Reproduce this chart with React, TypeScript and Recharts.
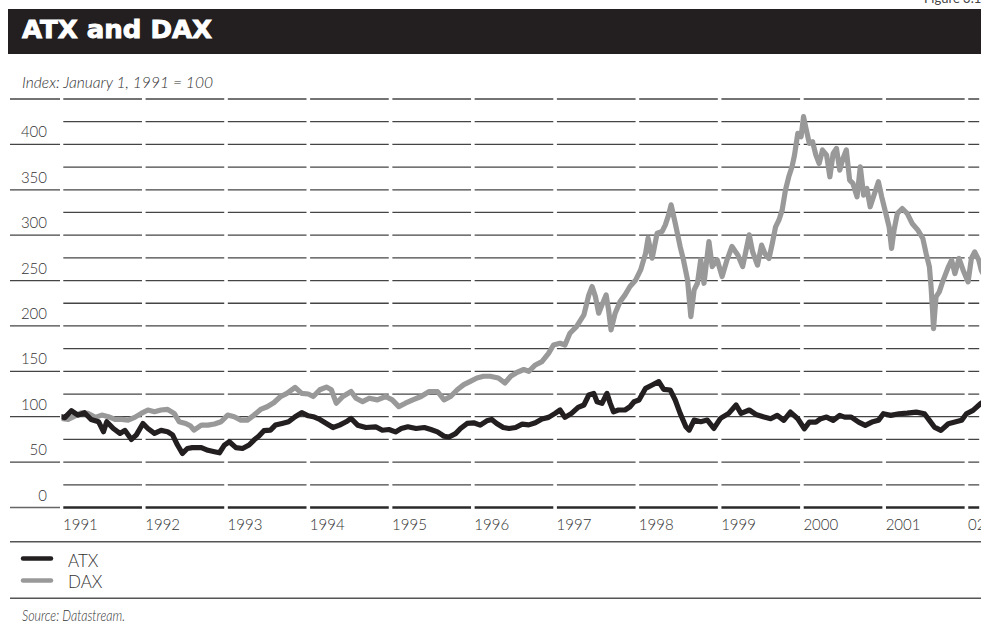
import { CartesianGrid, Line, LineChart, XAxis, YAxis } from "recharts";

// ATX, Index Jan 1 1991 = 100
const atxYears = [
  1991.0, 1991.04, 1991.12, 1991.2, 1991.28, 1991.36, 1991.45, 1991.51, 1991.55, 1991.63,
  1991.71, 1991.77, 1991.85, 1991.91, 1991.99, 1992.05, 1992.13, 1992.21, 1992.29, 1992.35,
  1992.41, 1992.47, 1992.53, 1992.59, 1992.7, 1992.78, 1992.86, 1992.92, 1992.98, 1993.04,
  1993.12, 1993.2, 1993.28, 1993.34, 1993.4, 1993.46, 1993.54, 1993.6, 1993.68, 1993.76,
  1993.84, 1993.92, 1994.0, 1994.06, 1994.14, 1994.22, 1994.3, 1994.38, 1994.46, 1994.52,
  1994.6, 1994.7, 1994.82, 1994.9, 1994.98, 1995.06, 1995.13, 1995.21, 1995.31, 1995.41,
  1995.49, 1995.57, 1995.65, 1995.71, 1995.79, 1995.85, 1995.93, 1996.01, 1996.09, 1996.17,
  1996.23, 1996.29, 1996.37, 1996.44, 1996.52, 1996.6, 1996.68, 1996.76, 1996.84, 1996.92,
  1997.0, 1997.06, 1997.12, 1997.2, 1997.28, 1997.35, 1997.41, 1997.47, 1997.51, 1997.57,
  1997.63, 1997.67, 1997.71, 1997.77, 1997.85, 1997.91, 1997.96, 1998.02, 1998.1, 1998.18,
  1998.26, 1998.32, 1998.4, 1998.46, 1998.52, 1998.59, 1998.63, 1998.69, 1998.77, 1998.85,
  1998.93, 1999.01, 1999.11, 1999.2, 1999.26, 1999.36, 1999.44, 1999.54, 1999.62, 1999.7,
  1999.78, 1999.86, 1999.95, 2000.03, 2000.09, 2000.17, 2000.23, 2000.3, 2000.38, 2000.46,
  2000.52, 2000.6, 2000.69, 2000.77, 2000.85, 2000.93, 2000.99, 2001.08, 2001.18, 2001.28,
  2001.39, 2001.49, 2001.55, 2001.61, 2001.69, 2001.78, 2001.86, 2001.94, 2002.0, 2002.08,
  2002.17, 2002.2,
];
const atxValues = [
  100, 99, 106.6, 101.8, 104.4, 97, 94.5, 83.5, 94.5, 87,
  81.6, 85, 75, 80, 92.6, 87, 81.6, 85, 83.5, 80,
  68.8, 59.6, 65, 66, 66, 63, 61.4, 60.3, 68.8, 72.4,
  66, 65, 68.8, 74.3, 78.7, 84.6, 85.3, 90.8, 92.6, 94.5,
  100, 104.4, 101, 100, 97, 92.6, 88.1, 90.7, 94.4, 98.1,
  90.7, 88.1, 88.9, 85.1, 85.9, 83.3, 87, 88.9, 87, 88.1,
  85.9, 83.3, 78.5, 77.7, 81.4, 87, 92.6, 93.3, 90.7, 95.5,
  97, 92.6, 88.1, 87, 88.1, 91.8, 91, 93.4, 97.5, 99.3,
  103.7, 107.4, 99.3, 103.7, 110.3, 112.9, 123.9, 125.7, 116.5, 114.7,
  125.7, 114.7, 105.5, 107.4, 107.4, 111, 116.5, 118.4, 131.3, 134.9,
  138.6, 130.1, 129.4, 118.4, 103.7, 89, 85.3, 96.3, 94.5, 96.3,
  87.1, 98.2, 103.7, 112.9, 103.7, 107.4, 102.5, 99.6, 97.8, 101.5,
  96, 105.1, 97.8, 86.8, 94.1, 94.1, 97.8, 99.6, 96, 101.5,
  99.6, 99.6, 94.1, 90.4, 94.1, 96, 103.3, 101.5, 103.3, 104,
  105.1, 103.3, 96, 88.6, 84.9, 92.3, 94.1, 96, 103.3, 107,
  114.3, 116,
];

// DAX, same base
const daxYears = [
  1991.0, 1991.08, 1991.16, 1991.24, 1991.32, 1991.41, 1991.49, 1991.57, 1991.65, 1991.73,
  1991.81, 1991.89, 1991.97, 1992.05, 1992.13, 1992.21, 1992.29, 1992.37, 1992.43, 1992.51,
  1992.57, 1992.61, 1992.7, 1992.78, 1992.86, 1992.94, 1993.02, 1993.1, 1993.18, 1993.26,
  1993.34, 1993.42, 1993.5, 1993.58, 1993.66, 1993.74, 1993.84, 1993.92, 1994.0, 1994.06,
  1994.14, 1994.22, 1994.28, 1994.34, 1994.42, 1994.52, 1994.58, 1994.66, 1994.74, 1994.84,
  1994.94, 1995.02, 1995.1, 1995.18, 1995.27, 1995.37, 1995.47, 1995.57, 1995.65, 1995.73,
  1995.81, 1995.89, 1995.97, 1996.05, 1996.13, 1996.21, 1996.31, 1996.39, 1996.46, 1996.54,
  1996.62, 1996.68, 1996.76, 1996.84, 1996.92, 1996.98, 1997.06, 1997.12, 1997.18, 1997.26,
  1997.35, 1997.41, 1997.45, 1997.49, 1997.53, 1997.57, 1997.62, 1997.65, 1997.68, 1997.73,
  1997.79, 1997.85, 1997.91, 1997.98, 1998.04, 1998.1, 1998.13, 1998.18, 1998.24, 1998.3,
  1998.34, 1998.38, 1998.41, 1998.46, 1998.52, 1998.56, 1998.61, 1998.65, 1998.69, 1998.73,
  1998.77, 1998.81, 1998.87, 1998.91, 1998.97, 1999.03, 1999.09, 1999.15, 1999.22, 1999.28,
  1999.36, 1999.4, 1999.46, 1999.51, 1999.55, 1999.6, 1999.64, 1999.68, 1999.72, 1999.76,
  1999.8, 1999.84, 1999.88, 1999.91, 1999.95, 1999.99, 2000.02, 2000.05, 2000.09, 2000.13,
  2000.17, 2000.21, 2000.25, 2000.3, 2000.34, 2000.38, 2000.42, 2000.46, 2000.5, 2000.54,
  2000.58, 2000.62, 2000.67, 2000.71, 2000.75, 2000.79, 2000.83, 2000.87, 2000.93, 2000.97,
  2001.02, 2001.06, 2001.09, 2001.12, 2001.16, 2001.22, 2001.28, 2001.34, 2001.41, 2001.47,
  2001.51, 2001.55, 2001.57, 2001.59, 2001.6, 2001.63, 2001.67, 2001.71, 2001.78, 2001.82,
  2001.86, 2001.91, 2001.96, 2002.02, 2002.06, 2002.1, 2002.15, 2002.18, 2002.2,
];
const daxValues = [
  98, 97, 100.7, 104.4, 103.7, 99.3, 101.8, 100, 97, 97,
  96.3, 99.3, 103.7, 107.4, 105.5, 107.4, 108, 103.7, 94.5, 92.6,
  89.7, 85.3, 90.8, 90.8, 92, 94.5, 101.8, 100, 96.3, 96.3,
  101.8, 108, 111, 115.4, 122, 125.7, 132.3, 125.7, 125, 122.3,
  129.7, 132.7, 129.7, 114.9, 122.3, 127.8, 120.4, 116.7, 120.4, 118.6,
  122.3, 118.6, 111.1, 114.9, 118.6, 122.3, 127.8, 127.8, 118.6, 122.3,
  129.7, 135.3, 139, 142.7, 144.6, 144.6, 142.7, 137.1, 144.6, 149,
  152, 150, 157, 160.7, 169.8, 179, 180.9, 179, 191.9, 199.3,
  212.1, 234.2, 243.4, 232.3, 214, 223.2, 234.2, 217.7, 195.6, 214,
  226.8, 234.2, 243.4, 250.7, 261.7, 280.1, 296.7, 274.6, 302.2, 304,
  311.4, 322.4, 333.4, 313.2, 287.5, 272.8, 250.7, 210.3, 239.7, 247,
  272.8, 247, 293, 265.4, 272.8, 254.4, 272.8, 287.5, 278.3, 265.4,
  300.3, 282, 267, 289, 279.8, 274.3, 290.8, 309.2, 316.5, 327.6,
  349.6, 364.3, 375.3, 388.2, 412.1, 408.5, 430.5, 417.6, 401.1, 402.9,
  388.2, 379, 393.8, 388.2, 364.3, 390, 395.6, 371.7, 384.6, 393.8,
  360.7, 357, 342.3, 375.3, 344.1, 351.5, 331.3, 342.3, 358.8, 342.3,
  323.9, 309.2, 285.3, 305.5, 323.9, 329.4, 323.9, 312.9, 305.5, 296.3,
  279.8, 265.1, 243, 213.6, 197.1, 232, 237.5, 248.5, 265.1, 272.4,
  257.7, 274.3, 261.4, 248.5, 274.3, 281.6, 272.4, 261.4, 258,
];

const yearTicks = [1991, 1992, 1993, 1994, 1995, 1996, 1997, 1998, 1999, 2000, 2001, 2002];
const yearLabels = ["1991", "1992", "1993", "1994", "1995", "1996", "1997", "1998", "1999", "2000", "2001", "02"];
const valueTicks = [0, 25, 50, 75, 100, 125, 150, 175, 200, 225, 250, 275, 300, 325, 350, 375, 400, 425, 450];
const labelledValues = [0, 50, 100, 150, 200, 250, 300, 350, 400];

const atxData = atxYears.map((t, i) => ({ t, v: atxValues[i] }));
const daxData = daxYears.map((t, i) => ({ t, v: daxValues[i] }));

const INK = "#231f20";
const GREY = "#999999";
const FONT = "Lato, 'Open Sans', sans-serif";

function YearTick({ x, payload }: { x?: number; payload?: { value: number } }) {
  const i = yearTicks.indexOf(payload?.value ?? 0);
  return (
    <text x={(x ?? 0) + 1.5} y={530} fontSize={15} fill="#333" fontFamily={FONT} fontWeight={300}>
      {yearLabels[i]}
    </text>
  );
}

function ValueTick({ y, payload }: { y?: number; payload?: { value: number } }) {
  const v = payload?.value ?? 0;
  if (v % 50 !== 0) return null;
  return (
    <g>
      <line x1={10} x2={60} y1={y} y2={y} stroke={v === 0 ? "#666" : "#444"} strokeWidth={1.3} />
      {labelledValues.includes(v) && (
        <text x={47} y={(y ?? 0) - 7} textAnchor="end" fontSize={15} fill="#333" fontFamily={FONT} fontWeight={300}>
          {v}
        </text>
      )}
    </g>
  );
}

// horizontal rules; the zero line is the heavy base
const hLine = (p: any) => (
  <line
    key={`h-${p.index}`}
    x1={p.x1}
    x2={p.x2}
    y1={p.y1}
    y2={p.y2}
    stroke={p.index === 0 ? "#2a2a2a" : "#444"}
    strokeWidth={p.index === 0 ? 2.6 : 1.3}
  />
);

// white breaks at each year boundary
const vLine = (p: any) => (
  <line key={`v-${p.index}`} x1={p.x1} x2={p.x2} y1={p.y1 - 3} y2={p.y2 + 4} stroke="#fff" strokeWidth={3.6} />
);

export default function App() {
  return (
    <div
      style={{
        position: "absolute",
        left: 0,
        top: 0,
        width: 981,
        height: 626,
        overflow: "hidden",
        background: "#fff",
      }}
    >
      <div style={{ position: "absolute", left: 0, top: 0 }}>
        <LineChart width={981} height={540} margin={{ top: 99, right: 0, bottom: 7.5, left: 0 }}>
          <CartesianGrid horizontal={hLine} vertical={vLine} />
          <XAxis
            type="number"
            dataKey="t"
            domain={[1991, 2002.177]}
            allowDataOverflow
            ticks={yearTicks}
            interval={0}
            tick={<YearTick />}
            tickLine={false}
            axisLine={false}
            height={25}
          />
          <YAxis
            type="number"
            domain={[0, 450]}
            ticks={valueTicks}
            interval={0}
            tick={<ValueTick />}
            tickLine={false}
            axisLine={false}
            width={61.5}
          />
          <Line
            data={daxData}
            dataKey="v"
            name="DAX"
            type="linear"
            stroke={GREY}
            strokeWidth={5.2}
            strokeLinejoin="round"
            strokeLinecap="round"
            dot={false}
            isAnimationActive={false}
          />
          <Line
            data={atxData}
            dataKey="v"
            name="ATX"
            type="linear"
            stroke={INK}
            strokeWidth={5.2}
            strokeLinejoin="round"
            strokeLinecap="round"
            dot={false}
            isAnimationActive={false}
          />
        </LineChart>
      </div>
      <svg width={981} height={626} style={{ position: "absolute", left: 0, top: 0, pointerEvents: "none" }}>
        <text x={924} y={2.5} fontSize={13} fill="#444" fontFamily={FONT}>
          Figure 3.1
        </text>
        <rect x={8} y={9} width={973} height={45} fill={INK} />
        <text
          x={22}
          y={37.5}
          fill="#fff"
          stroke="#fff"
          strokeWidth={0.9}
          fontSize={24}
          fontWeight="bold"
          fontFamily="'DejaVu Sans', sans-serif"
          textLength={190}
          lengthAdjust="spacingAndGlyphs"
        >
          ATX and DAX
        </text>
        <text
          x={22}
          y={88}
          fontSize={15}
          fontStyle="italic"
          fill="#333"
          fontFamily={FONT}
          fontWeight={300}
          textLength={191}
          lengthAdjust="spacingAndGlyphs"
        >
          Index: January 1, 1991 = 100
        </text>
        <line x1={10} x2={981} y1={541.7} y2={541.7} stroke="#555" strokeWidth={1.6} />
        <line x1={23} x2={51} y1={558.5} y2={558.5} stroke={INK} strokeWidth={4.5} strokeLinecap="round" />
        <text x={68} y={566.5} fontSize={17} fill="#333" fontFamily={FONT} fontWeight={300}>
          ATX
        </text>
        <line x1={23} x2={51} y1={580.5} y2={580.5} stroke={GREY} strokeWidth={4.5} strokeLinecap="round" />
        <text x={68} y={588.3} fontSize={17} fill="#333" fontFamily={FONT} fontWeight={300}>
          DAX
        </text>
        <line x1={10} x2={981} y1={598.3} y2={598.3} stroke="#555" strokeWidth={1.6} />
        <text
          x={22}
          y={620.5}
          fontSize={15}
          fontStyle="italic"
          fill="#333"
          fontFamily={FONT}
          fontWeight={300}
          textLength={103}
          lengthAdjust="spacingAndGlyphs"
        >
          Source: Datastream.
        </text>
      </svg>
    </div>
  );
}
